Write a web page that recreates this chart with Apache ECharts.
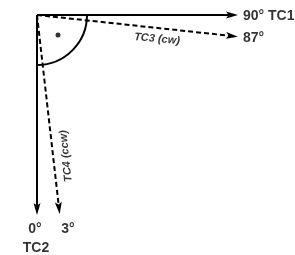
<!DOCTYPE html>
<html>
<head>
<meta charset="utf-8">
<script src="https://cdn.jsdelivr.net/npm/echarts@6/dist/echarts.min.js"></script>
<style>
  html, body { margin: 0; padding: 0; background: #fff; }
  #chart { width: 295px; height: 255px; }
</style>
</head>
<body>
<div id="chart"></div>
<script>
  // diagram units = pixels of the 295x255 picture, y grows downward
  const origin = [37, 15];
  const rayNames = ['TC1', 'TC2', 'TC3', 'TC4'];
  const rayEnds = [[232, 15], [37, 209], [232, 36], [59, 208]];
  const rayDashed = [false, false, true, true];
  const arcRadius = 50;
  const dotPoint = [58, 35];
  const labelTexts = ['90° TC1', '87°', '0°', 'TC2', '3°', 'TC3 (cw)', 'TC4 (ccw)'];
  const labelPoints = [[243, 16], [243, 38], [35, 229], [36, 248], [68, 229], [157, 39], [66, 156]];
  const labelRotate = [0, 0, 0, 0, 0, -5, 96];
  const labelAlign = ['left', 'left', 'center', 'center', 'center', 'center', 'center'];
  const labelItalic = [false, false, false, false, false, true, true];

  const chart = echarts.init(document.getElementById('chart'));
  const font = 'Liberation Sans, Arial, Helvetica, sans-serif';

  chart.setOption({
    animation: false,
    grid: { left: 0, right: 0, top: 0, bottom: 0 },
    xAxis: { type: 'value', min: 0, max: 295, show: false },
    yAxis: { type: 'value', min: 0, max: 255, inverse: true, show: false },
    series: [
      {
        type: 'lines',
        coordinateSystem: 'cartesian2d',
        symbol: ['none', 'path://M5,0 L10,14 L5,11 L0,14 Z'],
        symbolSize: [0, [7, 12]],
        data: rayNames.map((n, i) => ({
          name: n,
          coords: [origin, rayEnds[i]],
          lineStyle: { type: rayDashed[i] ? [5, 3] : 'solid' }
        })),
        lineStyle: { color: '#000', width: 2, opacity: 1, curveness: 0 },
        itemStyle: { color: '#000' },
        silent: true
      },
      {
        type: 'custom',
        silent: true,
        data: [[origin[0], origin[1], arcRadius]],
        renderItem(params, api) {
          const c = api.coord([api.value(0), api.value(1)]);
          const r = api.size([api.value(2), 0])[0];
          return {
            type: 'arc',
            shape: { cx: c[0], cy: c[1], r: r, startAngle: 0, endAngle: Math.PI / 2, clockwise: true },
            style: { stroke: '#000', fill: 'none', lineWidth: 2 }
          };
        }
      },
      {
        type: 'scatter',
        silent: true,
        symbolSize: 5,
        itemStyle: { color: '#000' },
        data: [dotPoint]
      },
      {
        type: 'scatter',
        silent: true,
        symbolSize: 0,
        data: labelTexts.map((t, i) => ({
          value: labelPoints[i],
          label: {
            show: true,
            position: 'inside',
            formatter: t,
            rotate: labelRotate[i],
            align: labelAlign[i],
            verticalAlign: 'middle',
            color: '#000',
            fontFamily: font,
            fontWeight: 'bold',
            fontStyle: labelItalic[i] ? 'italic' : 'normal',
            fontSize: labelItalic[i] ? 11 : 14
          }
        }))
      }
    ]
  });
</script>
</body>
</html>
